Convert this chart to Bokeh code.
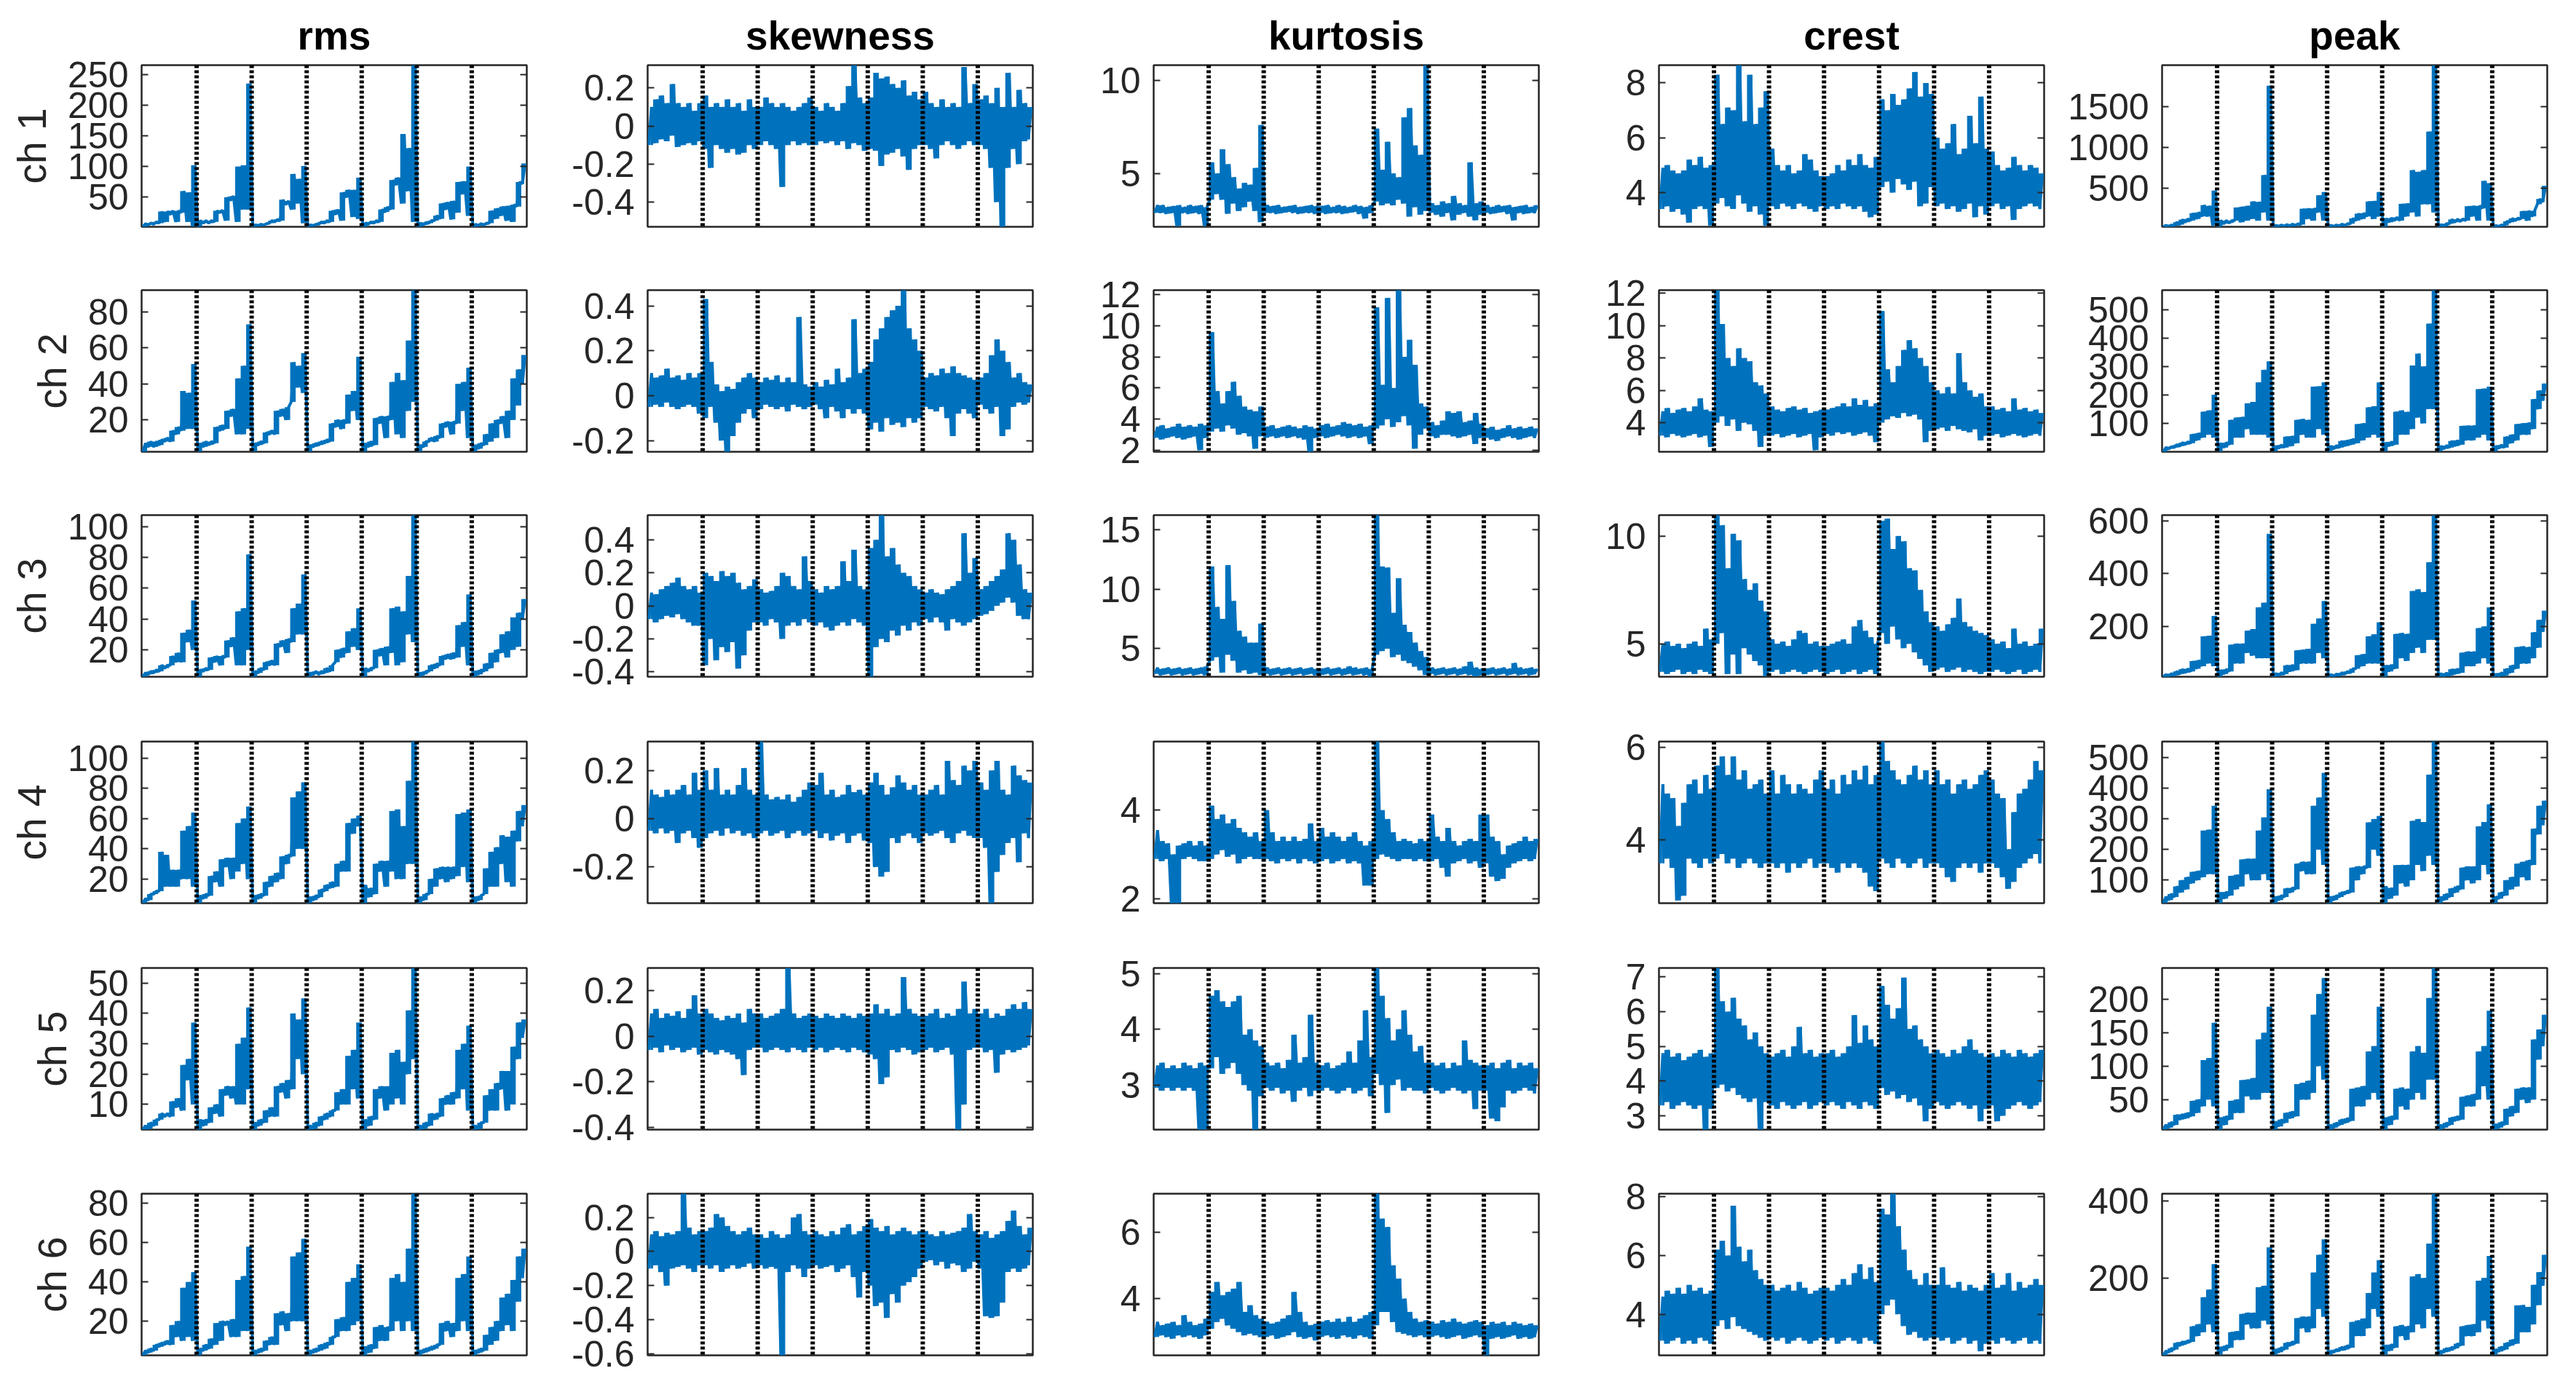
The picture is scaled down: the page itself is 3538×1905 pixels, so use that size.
from bokeh.plotting import figure
from bokeh.models import Range1d, FixedTicker, PrintfTickFormatter, LinearAxis, Span, CustomJSTickFormatter
from bokeh.layouts import column, row
from bokeh.embed import file_html
from bokeh.resources import INLINE

# ---------------------------------------------------------------- categories
FEATURES = ["rms", "skewness", "kurtosis", "crest", "peak"]
CHANNELS = ["ch 1", "ch 2", "ch 3", "ch 4", "ch 5", "ch 6"]
N_SEGMENTS = 7
BINS_PER_SEGMENT = 10
SEGMENT_BOUNDS = [1, 2, 3, 4, 5, 6]

# ---------------------------------------------------------------- y limits / ticks
rms_ylim = [(2, 265), (2.3, 92), (2.5, 107.5), (4, 111), (1.7, 55), (2.6, 85)]
skew_ylim = [(-0.53, 0.32), (-0.25, 0.47), (-0.43, 0.55), (-0.35, 0.32), (-0.41, 0.30), (-0.61, 0.34)]
kurt_ylim = [(2.15, 10.8), (1.9, 12.3), (2.65, 16.2), (1.9, 5.55), (2.2, 5.1), (2.3, 7.15)]
crest_ylim = [(2.75, 8.65), (2.2, 12.2), (3.47, 10.97), (2.64, 6.12), (2.6, 7.26), (2.6, 8.11)]
peak_ylim = [(23, 2012), (0, 568), (10, 621), (25, 553), (5, 247), (0, 418)]

rms_ticks = [[50, 100, 150, 200, 250], [20, 40, 60, 80], [20, 40, 60, 80, 100],
             [20, 40, 60, 80, 100], [10, 20, 30, 40, 50], [20, 40, 60, 80]]
skew_ticks = [[-0.4, -0.2, 0, 0.2], [-0.2, 0, 0.2, 0.4], [-0.4, -0.2, 0, 0.2, 0.4],
              [-0.2, 0, 0.2], [-0.4, -0.2, 0, 0.2], [-0.6, -0.4, -0.2, 0, 0.2]]
kurt_ticks = [[5, 10], [2, 4, 6, 8, 10, 12], [5, 10, 15], [2, 4], [3, 4, 5], [4, 6]]
crest_ticks = [[4, 6, 8], [4, 6, 8, 10, 12], [5, 10], [4, 6], [3, 4, 5, 6, 7], [4, 6, 8]]
peak_ticks = [[500, 1000, 1500], [100, 200, 300, 400, 500], [200, 400, 600],
              [100, 200, 300, 400, 500], [50, 100, 150, 200], [200, 400]]

# ---------------------------------------------------------------- values (low / high per bin, 10 bins per segment)
rms_lo_1 = [2,5,6,8,10,22,10,25,10,3, 2,8,8,10,25,12,45,10,30,30, 2,4,5,8,10,12,38,30,40,8, 2,4,6,8,10,22,12,50,18,15, 2,6,8,10,26,30,70,40,60,10, 2,5,8,12,15,30,14,25,55,20, 2,4,5,8,15,20,12,10,35,72]
rms_hi_1 = [7,8,10,27,27,28,28,60,58,102, 12,12,12,28,29,50,52,100,102,235, 5,6,7,12,14,46,44,88,80,101, 5,6,10,12,28,30,58,62,62,82, 8,10,12,30,34,78,82,153,130,265, 8,9,12,20,40,42,44,75,76,100, 6,7,8,28,32,35,36,38,75,105]
rms_lo_2 = [2.3,5,5,6,8,8,12,14,15,15, 2.5,5,6,7,14,15,22,12,12,15, 2.5,6,7,12,12,22,20,30,38,35, 2.5,5,6,7,8,16,15,18,25,20, 2.5,5,6,18,10,20,12,10,25,30, 2.5,5,8,8,10,16,12,18,25,10, 2.5,4,6,8,10,18,10,20,28,40]
rms_hi_2 = [7,8,8,9,10,14,16,36,35,51, 7,8,8,16,17,25,26,43,50,73, 7,8,13,14,25,26,27,52,50,57, 6,7,8,9,18,20,20,34,36,55, 7,8,21,22,22,41,46,42,64,92, 6,8,10,11,18,19,19,40,41,49, 6,7,12,18,20,22,25,43,48,56]
rms_lo_3 = [2.5,4,5,6,8,10,12,12,25,20, 2.5,6,7,12,10,15,22,10,10,20, 2.5,5,7,10,10,22,18,25,30,30, 2.5,4,4,5,6,12,15,18,22,20, 2.5,6,8,16,10,18,10,12,30,25, 2.5,4,6,8,10,14,14,15,22,10, 2.5,4,6,8,12,18,15,20,22,40]
rms_hi_3 = [5,6,7,10,10,16,18,31,33,52, 7,8,15,16,16,26,28,45,47,82, 6,8,12,13,24,26,27,47,50,69, 5,6,6,8,10,20,21,32,34,47, 8,8,20,21,22,47,48,45,68,107.5, 5,6,10,11,16,17,18,36,38,56, 6,7,11,18,20,30,32,41,44,53]
rms_lo_4 = [4,6,10,12,15,15,15,20,20,15, 4,7,9,18,15,28,20,25,30,20, 4,7,9,15,18,20,30,35,40,40, 4,6,8,12,14,15,25,25,50,55, 4,8,10,25,15,25,20,20,30,30, 4,6,10,15,20,18,20,22,28,18, 4,6,10,15,15,30,18,15,45,55]
rms_hi_4 = [7,10,12,38,36,26,26,52,55,64, 9,10,22,25,33,34,34,57,60,68, 9,10,18,22,24,35,36,74,78,84, 8,9,13,16,18,30,32,57,60,62, 16,14,30,32,32,65,66,55,85,111, 8,10,20,27,28,28,28,63,64,66, 8,9,27,38,41,49,48,52,65,69]
rms_lo_5 = [1.7,2,3,5,6,6,9,8,18,10, 1.7,3,4,7,6,13,12,10,10,15, 1.7,3,4,6,6,14,12,15,25,20, 1.7,2,3,5,6,8,10,10,15,12, 1.7,3,5,12,8,10,12,10,20,25, 1.7,2,3,5,6,10,10,12,15,8, 1.7,2,4,8,8,15,8,10,25,32]
rms_hi_5 = [3,4,5,7,7,11,12,23,25,37, 5,5,9,10,15,16,16,30,32,42, 4,5,8,9,16,17,18,40,38,45, 3,4,6,7,8,14,15,26,28,37, 5,6,15,16,16,27,28,24,41,55, 3,4,7,7,12,13,14,28,30,36, 3,4,13,15,17,21,21,29,37,38]
rms_lo_6 = [2.6,4,5,7,8,8,12,10,12,10, 2.6,5,6,8,10,18,12,12,15,15, 2.6,4,5,8,8,18,15,20,20,20, 2.6,4,5,6,8,12,15,15,18,20, 2.6,4,6,10,10,15,20,15,20,15, 2.6,4,5,6,8,15,12,15,20,15, 2.6,4,5,8,10,15,18,15,30,42]
rms_hi_6 = [5,6,8,9,10,18,20,37,40,45, 6,8,11,19,20,20,21,41,43,58, 5,6,10,12,24,25,24,53,55,62, 5,6,8,9,12,21,22,40,42,49, 7,8,17,18,17,42,44,40,57,85, 5,6,7,8,19,20,19,42,44,53, 5,6,13,17,20,32,34,41,53,57]

skew_lo_1 = [-0.10,-0.09,-0.07,-0.08,-0.05,-0.11,-0.10,-0.09,-0.10,-0.08, -0.12,-0.22,-0.10,-0.12,-0.14,-0.12,-0.15,-0.14,-0.10,-0.12, -0.10,-0.08,-0.10,-0.12,-0.32,-0.10,-0.08,-0.10,-0.09,-0.10, -0.10,-0.08,-0.09,-0.08,-0.10,-0.08,-0.12,-0.09,-0.10,-0.13, -0.12,-0.13,-0.21,-0.15,-0.14,-0.12,-0.16,-0.23,-0.12,-0.10, -0.10,-0.12,-0.17,-0.10,-0.08,-0.10,-0.12,-0.10,-0.08,-0.10, -0.10,-0.12,-0.22,-0.40,-0.53,-0.22,-0.12,-0.20,-0.08,-0.07]
skew_hi_1 = [0.10,0.14,0.16,0.12,0.22,0.12,0.10,0.12,0.08,0.12, 0.16,0.10,0.12,0.10,0.14,0.10,0.12,0.08,0.14,0.10, 0.10,0.15,0.12,0.10,0.12,0.10,0.08,0.10,0.12,0.15, 0.10,0.08,0.12,0.10,0.08,0.12,0.21,0.32,0.15,0.12, 0.15,0.28,0.25,0.26,0.22,0.20,0.24,0.16,0.18,0.14, 0.18,0.12,0.10,0.14,0.10,0.12,0.10,0.31,0.12,0.22, 0.14,0.16,0.12,0.20,0.10,0.28,0.10,0.19,0.12,0.10]
skew_lo_2 = [-0.05,-0.04,-0.05,-0.03,-0.05,-0.06,-0.05,-0.04,-0.05,-0.08, -0.10,-0.05,-0.12,-0.20,-0.25,-0.18,-0.12,-0.08,-0.06,-0.10, -0.06,-0.04,-0.05,-0.06,-0.05,-0.07,-0.04,-0.05,-0.06,-0.05, -0.04,-0.06,-0.10,-0.05,-0.07,-0.10,-0.06,-0.08,-0.06,-0.08, -0.15,-0.12,-0.16,-0.10,-0.13,-0.12,-0.14,-0.10,-0.12,-0.10, -0.05,-0.06,-0.07,-0.05,-0.10,-0.18,-0.08,-0.06,-0.08,-0.10, -0.04,-0.06,-0.08,-0.05,-0.18,-0.15,-0.05,-0.03,-0.04,-0.03]
skew_hi_2 = [0.10,0.08,0.09,0.12,0.08,0.09,0.07,0.10,0.08,0.10, 0.43,0.15,0.05,0.02,0.04,0.03,0.06,0.08,0.10,0.08, 0.06,0.08,0.07,0.09,0.06,0.08,0.06,0.35,0.05,0.04, 0.06,0.04,0.07,0.05,0.12,0.06,0.08,0.34,0.10,0.12, 0.15,0.25,0.30,0.35,0.38,0.40,0.47,0.30,0.25,0.20, 0.08,0.10,0.09,0.12,0.10,0.13,0.10,0.09,0.08,0.07, 0.08,0.10,0.18,0.25,0.20,0.15,0.08,0.10,0.06,0.05]
skew_lo_3 = [-0.08,-0.10,-0.08,-0.06,-0.07,-0.05,-0.08,-0.10,-0.12,-0.12, -0.36,-0.20,-0.33,-0.25,-0.28,-0.22,-0.38,-0.30,-0.15,-0.10, -0.10,-0.12,-0.08,-0.10,-0.20,-0.12,-0.10,-0.12,-0.08,-0.10, -0.12,-0.10,-0.13,-0.15,-0.12,-0.10,-0.12,-0.08,-0.10,-0.12, -0.43,-0.25,-0.20,-0.22,-0.15,-0.18,-0.12,-0.15,-0.10,-0.12, -0.08,-0.10,-0.07,-0.10,-0.15,-0.08,-0.10,-0.12,-0.10,-0.08, -0.06,-0.05,-0.03,0.00,0.02,0.05,0.02,-0.06,-0.08,-0.08]
skew_hi_3 = [0.08,0.07,0.10,0.12,0.14,0.17,0.12,0.10,0.12,0.08, 0.20,0.18,0.15,0.21,0.18,0.20,0.14,0.10,0.12,0.16, 0.10,0.08,0.09,0.12,0.20,0.18,0.12,0.10,0.30,0.15, 0.10,0.08,0.12,0.10,0.12,0.27,0.15,0.34,0.12,0.10, 0.35,0.40,0.55,0.30,0.35,0.25,0.20,0.18,0.12,0.10, 0.08,0.10,0.08,0.07,0.10,0.12,0.15,0.44,0.20,0.29, 0.10,0.12,0.15,0.18,0.22,0.44,0.40,0.25,0.10,0.08]
skew_lo_4 = [-0.05,-0.06,-0.04,-0.06,-0.05,-0.10,-0.06,-0.05,-0.08,-0.12, -0.08,-0.06,-0.05,-0.07,-0.04,-0.06,-0.05,-0.07,-0.06,-0.08, -0.06,-0.05,-0.07,-0.06,-0.05,-0.08,-0.06,-0.05,-0.07,-0.06, -0.05,-0.08,-0.06,-0.09,-0.07,-0.06,-0.10,-0.07,-0.06,-0.09, -0.10,-0.20,-0.24,-0.22,-0.08,-0.10,-0.07,-0.06,-0.08,-0.10, -0.06,-0.07,-0.06,-0.05,-0.08,-0.10,-0.06,-0.05,-0.07,-0.08, -0.08,-0.12,-0.35,-0.22,-0.15,-0.10,-0.08,-0.18,-0.06,-0.08]
skew_hi_4 = [0.12,0.10,0.09,0.12,0.10,0.12,0.14,0.10,0.19,0.12, 0.20,0.12,0.21,0.10,0.12,0.10,0.14,0.21,0.12,0.10, 0.32,0.10,0.08,0.09,0.08,0.10,0.07,0.09,0.12,0.15, 0.14,0.19,0.10,0.12,0.09,0.10,0.14,0.11,0.12,0.10, 0.15,0.19,0.14,0.10,0.13,0.18,0.15,0.12,0.14,0.10, 0.10,0.12,0.14,0.10,0.24,0.16,0.14,0.22,0.20,0.24, 0.15,0.12,0.20,0.24,0.12,0.10,0.22,0.18,0.16,0.15]
skew_lo_5 = [-0.06,-0.05,-0.07,-0.04,-0.06,-0.05,-0.07,-0.06,-0.05,-0.08, -0.06,-0.07,-0.08,-0.06,-0.07,-0.08,-0.10,-0.17,-0.06,-0.05, -0.05,-0.07,-0.06,-0.05,-0.06,-0.07,-0.05,-0.06,-0.07,-0.05, -0.06,-0.05,-0.07,-0.06,-0.05,-0.06,-0.07,-0.05,-0.06,-0.07, -0.08,-0.10,-0.21,-0.18,-0.06,-0.07,-0.05,-0.06,-0.08,-0.07, -0.06,-0.05,-0.07,-0.06,-0.05,-0.08,-0.41,-0.30,-0.06,-0.05, -0.05,-0.07,-0.06,-0.16,-0.08,-0.06,-0.07,-0.06,-0.05,-0.04]
skew_hi_5 = [0.10,0.12,0.08,0.10,0.09,0.11,0.08,0.12,0.18,0.10, 0.12,0.10,0.08,0.07,0.09,0.08,0.10,0.06,0.12,0.10, 0.10,0.08,0.09,0.10,0.12,0.30,0.10,0.08,0.09,0.10, 0.09,0.08,0.10,0.09,0.08,0.10,0.09,0.08,0.10,0.09, 0.10,0.14,0.10,0.12,0.09,0.10,0.26,0.12,0.10,0.09, 0.09,0.10,0.12,0.08,0.10,0.09,0.12,0.24,0.10,0.12, 0.10,0.12,0.08,0.10,0.09,0.12,0.14,0.12,0.15,0.12]
skew_lo_6 = [-0.10,-0.08,-0.12,-0.20,-0.10,-0.09,-0.08,-0.10,-0.12,-0.08, -0.08,-0.10,-0.08,-0.12,-0.10,-0.08,-0.10,-0.09,-0.07,-0.10, -0.08,-0.10,-0.09,-0.10,-0.61,-0.12,-0.08,-0.10,-0.15,-0.10, -0.08,-0.10,-0.09,-0.08,-0.12,-0.10,-0.08,-0.15,-0.27,-0.12, -0.20,-0.32,-0.30,-0.39,-0.25,-0.30,-0.20,-0.18,-0.15,-0.10, -0.06,-0.05,-0.08,-0.06,-0.10,-0.07,-0.08,-0.12,-0.10,-0.06, -0.10,-0.38,-0.39,-0.38,-0.30,-0.12,-0.10,-0.12,-0.10,-0.08]
skew_hi_6 = [0.10,0.12,0.09,0.11,0.10,0.12,0.34,0.14,0.10,0.12, 0.12,0.14,0.22,0.20,0.15,0.12,0.10,0.12,0.14,0.10, 0.10,0.08,0.12,0.10,0.08,0.10,0.20,0.22,0.12,0.10, 0.12,0.10,0.09,0.12,0.10,0.14,0.16,0.10,0.12,0.15, 0.19,0.14,0.12,0.15,0.10,0.12,0.14,0.12,0.10,0.12, 0.12,0.10,0.09,0.12,0.10,0.11,0.12,0.14,0.22,0.12, 0.10,0.12,0.08,0.10,0.12,0.18,0.24,0.15,0.10,0.14]

kurt_lo_1 = [2.9,2.9,2.85,2.9,2.2,2.9,2.85,2.9,2.85,2.2, 3.6,3.9,3.6,2.85,3.4,3.0,3.2,3.5,3.0,2.4, 2.9,2.9,2.85,2.9,2.95,2.9,2.85,2.9,2.9,2.85, 2.9,2.85,2.9,2.9,2.85,2.9,2.95,2.85,2.6,2.9, 3.5,3.3,3.4,3.3,3.6,3.4,2.7,3.2,2.8,3.0, 2.9,2.8,2.7,2.9,2.5,2.8,2.9,2.7,2.5,2.8, 2.9,2.85,2.9,2.95,2.85,2.5,2.9,2.85,2.9,2.9]
kurt_hi_1 = [3.3,3.3,3.2,3.25,3.3,3.2,3.3,3.25,3.3,3.2, 5.6,5.0,6.3,5.5,4.8,4.2,4.5,4.4,5.3,7.6, 3.3,3.25,3.3,3.2,3.25,3.3,3.2,3.25,3.3,3.25, 3.25,3.3,3.2,3.3,3.25,3.2,3.3,3.25,3.2,3.3, 7.4,5.2,6.7,5.0,4.8,8.0,8.5,6.5,6.0,10.8, 3.4,3.3,3.5,3.4,3.8,3.4,3.3,5.6,3.4,3.5, 3.3,3.2,3.3,3.25,3.3,3.2,3.25,3.3,3.2,3.3]
kurt_lo_2 = [2.8,2.7,2.8,2.9,2.8,2.7,2.8,2.9,2.0,2.8, 3.2,3.4,3.2,3.6,3.4,3.0,3.1,2.9,2.1,2.9, 2.8,2.9,2.8,2.9,2.8,2.9,2.8,2.7,1.9,2.8, 2.9,2.8,2.9,3.0,2.9,2.8,2.9,2.8,2.9,2.4, 3.4,3.6,4.0,3.5,3.8,4.2,3.6,2.1,3.0,3.4, 2.9,2.8,3.0,3.0,2.9,2.8,2.9,3.0,2.4,2.8, 2.8,2.7,2.6,2.8,2.9,2.8,2.7,2.8,2.9,2.8]
kurt_hi_2 = [3.5,3.6,3.4,3.5,3.7,3.5,3.6,3.5,3.7,3.6, 9.6,5.8,5.0,5.8,6.4,5.5,4.8,4.6,4.5,4.8, 3.5,3.6,3.4,3.5,3.6,3.5,3.4,3.6,3.5,3.4, 3.6,3.7,3.5,3.6,3.8,3.7,3.6,3.7,3.5,3.6, 11.2,6.2,11.8,6.0,12.3,8.0,9.1,7.5,5.0,4.8, 3.8,3.6,3.9,4.5,4.4,4.5,3.8,3.9,4.4,3.7, 3.4,3.5,3.3,3.4,3.6,3.4,3.5,3.4,3.5,3.4]
kurt_lo_3 = [2.9,2.8,2.9,2.8,2.9,2.8,2.9,2.8,2.9,2.8, 4.0,4.3,3.0,4.5,4.0,3.0,3.2,2.9,3.0,2.8, 2.9,2.8,2.9,2.8,2.9,2.8,2.9,2.8,2.9,2.8, 2.8,2.9,2.8,2.9,2.8,2.9,2.8,2.9,2.8,2.7, 4.5,4.8,5.0,4.3,4.5,4.0,3.8,3.5,3.2,2.8, 2.9,2.8,2.9,2.8,2.9,2.8,2.9,2.8,2.7,2.8, 2.8,2.9,2.8,2.9,2.8,2.9,2.8,2.9,2.8,2.9]
kurt_hi_3 = [3.4,3.3,3.4,3.3,3.4,3.3,3.4,3.3,3.4,3.5, 11.9,8.5,7.5,12.0,9.0,6.5,6.0,5.5,5.5,7.1, 3.4,3.3,3.4,3.3,3.4,3.3,3.4,3.3,3.4,3.3, 3.3,3.4,3.3,3.4,3.3,3.5,3.4,3.3,3.4,3.3, 16.2,11.9,11.8,8.0,10.9,7.0,6.4,5.5,4.8,4.3, 3.4,3.3,3.4,3.3,3.4,3.3,3.5,3.9,3.4,3.3, 3.3,3.4,3.3,3.4,3.3,3.8,3.4,3.3,3.4,3.3]
kurt_lo_4 = [2.9,2.85,2.9,1.9,1.9,2.9,2.95,2.9,2.85,2.85, 2.9,3.0,3.1,2.95,3.0,2.8,2.9,2.95,2.9,2.9, 2.9,2.85,2.8,2.9,2.85,2.9,2.8,2.9,2.85,2.8, 2.85,2.9,2.8,2.85,2.9,2.8,2.85,2.8,2.3,2.3, 2.9,3.0,2.95,2.9,2.85,2.9,2.9,2.85,2.9,2.85, 2.85,2.9,2.7,2.5,2.8,2.85,2.9,2.8,2.85,2.7, 2.8,2.5,2.4,2.45,2.7,2.8,2.85,2.9,2.85,2.9]
kurt_hi_4 = [3.55,3.3,3.25,3.0,3.2,3.25,3.3,3.2,3.3,3.2, 4.1,3.8,3.9,3.7,3.8,3.6,3.5,3.4,3.5,3.3, 4.0,3.5,3.3,3.4,3.3,3.4,3.3,3.35,3.7,3.3, 3.6,3.4,3.5,3.4,3.3,3.4,3.5,3.3,3.2,3.3, 5.55,4.0,3.8,3.5,3.3,3.35,3.3,3.25,3.35,3.3, 3.9,3.4,3.3,3.6,3.3,3.2,3.3,3.35,3.3,3.9, 3.9,3.4,3.3,3.0,3.2,3.25,3.3,3.4,3.3,3.35]
kurt_lo_5 = [2.95,2.9,2.95,2.9,2.95,2.9,2.95,2.9,2.2,2.2, 3.3,3.5,3.2,3.3,3.4,3.2,3.0,2.9,2.2,2.8, 2.95,2.9,2.95,2.85,2.9,2.7,2.9,2.95,2.8,2.9, 2.9,2.95,2.9,2.85,2.9,2.95,2.85,2.9,2.95,2.8, 3.2,3.0,2.5,3.0,3.1,2.9,2.95,2.9,2.9,2.85, 2.95,2.9,2.85,2.9,2.95,2.9,2.85,2.9,2.57,2.9, 2.9,2.4,2.35,2.6,2.9,2.85,2.9,2.95,2.9,2.85]
kurt_hi_5 = [3.35,3.4,3.3,3.35,3.3,3.4,3.35,3.3,3.4,3.35, 4.6,4.7,4.5,4.4,4.5,4.6,3.9,4.0,3.8,3.7, 3.4,3.35,3.4,3.3,3.45,3.9,3.4,3.5,4.26,3.4, 3.35,3.4,3.3,3.35,3.4,3.6,3.4,3.8,4.34,3.5, 5.1,4.6,4.2,3.8,4.0,4.34,3.9,3.6,3.7,3.4, 3.4,3.35,3.4,3.3,3.4,3.35,3.8,3.45,3.4,3.35, 3.35,3.4,3.3,3.4,3.45,3.3,3.4,3.35,3.4,3.3]
kurt_lo_6 = [2.85,2.9,2.85,2.8,2.9,2.85,2.9,2.85,2.8,2.9, 3.1,3.3,3.4,3.2,3.1,3.0,2.9,2.95,2.9,2.85, 2.85,2.9,2.8,2.85,2.9,3.0,2.85,2.8,2.85,2.75, 2.85,2.9,2.85,2.8,2.9,2.85,2.8,2.9,2.85,2.8, 3.2,3.6,3.6,3.3,3.0,2.95,2.9,2.85,2.9,2.85, 2.85,2.9,2.85,2.8,2.85,2.9,2.8,2.85,2.9,2.85, 2.3,2.8,2.85,2.8,2.85,2.9,2.8,2.85,2.8,2.85]
kurt_hi_6 = [3.3,3.2,3.25,3.3,3.2,3.5,3.3,3.2,3.25,3.4, 4.2,4.5,4.1,4.2,4.3,4.5,3.6,3.8,3.5,3.4, 3.3,3.25,3.3,3.4,3.5,4.2,3.6,3.3,3.2,3.25, 3.3,3.35,3.3,3.4,3.3,3.45,3.3,3.4,3.5,3.6, 7.15,6.4,6.15,5.0,4.6,4.0,3.6,3.4,3.3,3.35, 3.3,3.25,3.35,3.3,3.4,3.3,3.25,3.3,3.35,3.3, 3.2,3.3,3.25,3.3,3.2,3.3,3.25,3.2,3.25,3.2]

crest_lo_1 = [3.4,3.5,3.3,3.4,3.2,2.9,3.4,3.5,3.4,2.8, 3.6,3.8,3.5,3.4,3.9,3.6,3.3,3.5,3.2,2.8, 3.5,3.4,3.6,3.5,3.4,3.6,3.5,3.4,3.3,3.5, 3.4,3.5,3.4,3.6,3.5,3.4,3.5,3.3,3.1,3.2, 4.2,4.4,4.0,4.5,4.3,4.1,4.4,3.5,3.6,4.2, 3.5,3.6,3.4,3.5,3.3,3.4,3.6,3.1,3.5,3.2, 3.5,3.6,3.4,3.5,3.0,3.4,3.5,3.6,3.5,3.4]
crest_hi_1 = [4.9,5.0,4.8,4.7,4.8,5.2,5.0,5.3,4.9,5.0, 8.3,6.5,7.1,7.0,8.65,6.6,8.3,6.5,7.1,7.7, 5.6,5.0,4.8,5.0,4.7,4.8,5.4,5.2,4.8,4.6, 4.6,4.7,5.0,4.8,5.2,5.0,5.4,5.0,4.9,5.3, 7.4,7.0,7.6,7.2,7.4,7.8,8.4,7.5,8.0,7.6, 6.0,5.6,5.8,6.5,5.4,5.6,6.8,5.8,7.5,5.6, 5.5,5.0,4.8,4.9,5.3,5.0,4.8,5.0,4.9,4.7]
crest_lo_2 = [3.2,3.1,3.3,3.2,3.1,3.2,3.3,3.1,3.2,2.5, 4.0,4.4,3.8,4.2,3.5,4.0,3.9,3.5,2.5,3.2, 3.2,3.3,3.1,3.2,3.3,3.1,3.2,3.3,2.3,3.1, 3.3,3.2,3.4,3.3,3.4,3.2,3.3,3.4,3.2,2.8, 4.0,4.2,4.4,4.3,4.6,4.4,4.5,4.2,2.8,3.5, 3.6,3.7,3.5,3.8,3.6,3.5,3.4,3.6,2.9,3.2, 3.2,3.3,3.1,3.2,3.3,3.2,3.1,3.2,3.3,3.2]
crest_hi_2 = [4.7,4.9,4.6,4.8,4.9,4.7,5.0,5.5,4.8,4.7, 12.2,10.1,8.0,7.5,8.6,8.0,7.8,6.5,6.3,5.8, 5.0,4.8,4.7,4.9,5.0,4.8,4.9,4.6,4.7,4.8, 4.8,4.9,5.0,5.2,5.0,5.5,5.1,5.4,5.0,5.2, 10.9,7.3,6.5,7.5,8.5,9.1,8.6,8.0,7.5,6.5, 6.0,5.8,6.2,5.8,8.3,6.5,6.0,5.6,5.8,5.0, 5.0,4.8,4.9,4.7,5.5,4.8,4.9,4.7,4.8,4.6]
crest_lo_3 = [3.7,3.6,3.7,3.8,3.6,3.7,3.6,3.8,3.7,3.6, 5.0,5.5,3.6,4.5,3.6,4.8,4.5,4.2,4.0,3.5, 3.7,3.8,3.6,3.7,3.8,3.7,3.6,3.7,3.8,3.7, 3.6,3.7,3.8,3.6,3.7,3.8,3.6,3.7,3.8,3.6, 5.5,5.0,5.8,5.2,4.8,5.0,4.6,4.3,4.0,3.7, 3.8,3.9,3.7,3.8,3.9,3.7,3.8,3.7,3.6,3.7, 3.7,3.8,3.7,3.6,3.7,3.8,3.6,3.7,3.8,3.7]
crest_hi_3 = [5.0,5.1,4.9,5.0,4.8,5.0,5.1,4.9,5.7,5.2, 10.97,10.5,8.5,10.1,9.8,8.0,7.5,7.8,7.0,6.5, 5.2,5.0,5.1,4.9,5.2,5.6,5.5,5.0,5.1,4.9, 4.9,5.0,5.1,5.2,5.0,5.8,6.1,5.6,5.3,5.0, 10.7,10.8,9.4,10.0,9.75,8.5,8.4,7.5,6.5,6.0, 5.8,5.6,5.9,6.2,7.1,6.0,5.8,5.6,5.5,5.4, 5.2,5.0,5.1,4.8,5.7,5.0,5.1,4.9,5.0,5.7]
crest_lo_4 = [3.5,3.6,3.4,2.7,2.8,3.6,3.5,3.4,3.6,3.5, 3.6,3.7,3.5,3.6,3.4,3.5,3.6,3.5,3.4,3.5, 3.5,3.4,3.5,3.3,3.5,3.4,3.5,3.6,3.4,3.5, 3.5,3.4,3.3,3.5,3.4,3.5,3.4,3.3,3.0,2.9, 3.6,3.5,3.4,3.6,3.5,3.4,3.5,3.6,3.4,3.5, 3.5,3.4,3.2,3.1,3.4,3.5,3.4,3.5,3.3,3.5, 3.5,3.4,3.2,2.95,3.1,3.4,3.5,3.6,3.7,3.5]
crest_hi_4 = [5.2,5.0,4.9,4.3,4.8,5.2,5.3,5.0,5.4,5.1, 5.6,5.8,5.4,5.8,5.3,5.5,5.1,5.2,5.3,5.0, 5.5,5.0,5.4,5.2,5.0,5.2,5.1,5.0,5.3,5.5, 5.1,5.3,5.0,5.4,5.2,5.5,5.3,5.6,5.2,5.4, 6.12,5.7,5.5,5.3,5.2,5.4,5.6,5.3,5.5,5.2, 5.5,5.2,5.3,5.0,5.2,5.3,5.1,5.2,5.4,5.5, 5.3,5.0,4.9,3.8,4.6,5.0,5.1,5.3,5.7,5.5]
crest_lo_5 = [3.3,3.4,3.2,3.3,3.4,3.3,3.2,3.3,2.6,3.2, 3.8,3.9,3.7,3.8,3.6,3.5,3.4,3.5,2.6,3.4, 3.3,3.2,3.4,3.3,3.2,3.3,3.4,3.2,3.3,3.4, 3.3,3.4,3.3,3.2,3.4,3.3,3.2,3.4,3.3,3.2, 3.8,3.6,3.7,3.5,3.6,3.4,3.5,3.3,2.84,3.2, 3.4,3.3,3.2,3.3,3.4,3.3,3.2,3.3,2.84,3.2, 3.3,2.84,3.0,3.2,3.3,3.4,3.3,3.2,3.3,3.4]
crest_hi_5 = [4.8,4.9,4.7,4.8,4.6,4.7,4.8,4.9,4.7,4.8, 7.26,6.3,6.0,6.4,5.8,5.6,5.2,5.4,5.0,4.8, 4.7,4.8,4.9,4.7,5.0,5.56,4.8,4.9,4.7,4.8, 4.8,4.9,4.7,4.8,5.0,5.9,5.1,5.6,5.2,5.0, 6.74,6.2,5.8,6.1,6.98,5.5,5.6,5.2,5.0,4.8, 4.9,4.8,4.7,4.9,4.8,5.0,5.2,4.9,4.8,4.7, 4.8,4.7,4.9,4.8,4.7,4.9,4.8,4.7,4.8,4.9]
crest_lo_6 = [3.1,3.0,3.1,3.2,3.0,3.1,3.0,3.2,3.1,3.0, 3.6,3.8,3.5,3.9,3.6,3.5,3.4,3.3,3.2,3.1, 3.2,3.1,3.2,3.0,3.1,3.2,3.1,3.0,3.1,3.2, 3.1,3.2,3.0,3.1,3.2,3.1,3.0,3.2,3.1,3.0, 4.0,4.3,4.5,4.0,3.6,3.3,3.4,3.2,3.1,3.2, 3.2,3.1,3.2,3.0,3.1,3.2,3.0,3.1,2.74,3.0, 3.1,3.0,3.2,3.1,3.0,3.1,3.2,3.0,3.1,3.0]
crest_hi_6 = [4.6,4.8,4.7,4.9,4.7,5.0,4.8,4.9,4.7,4.8, 6.2,6.5,6.0,7.7,6.3,5.8,6.2,5.5,5.2,5.0, 5.0,4.8,4.9,5.0,4.8,5.1,4.9,4.7,4.8,4.9, 4.9,4.8,5.0,5.2,5.0,5.4,5.7,5.2,5.6,5.1, 7.6,7.4,8.11,7.0,6.2,5.5,5.2,5.0,5.4,5.0, 5.0,5.6,5.0,4.9,5.1,4.8,5.0,4.9,4.8,5.0, 5.4,4.9,5.0,5.4,4.8,5.1,4.9,5.0,5.2,5.0]

peak_lo_1 = [23,30,35,50,80,100,120,150,150,40, 23,60,70,100,80,100,120,100,200,100, 23,30,30,35,40,50,120,100,200,100, 23,30,35,40,60,100,120,150,120,150, 23,80,100,100,150,200,150,300,300,200, 23,30,60,80,90,100,150,100,250,100, 23,28,40,80,100,120,100,150,300,330]
peak_hi_1 = [40,45,80,110,120,190,200,290,280,468, 100,100,100,260,270,280,335,330,660,1760, 40,45,50,55,60,245,250,250,410,450, 40,45,55,60,125,185,190,335,340,450, 125,130,140,305,310,720,700,720,1195,2012, 50,60,112,115,120,275,280,280,587,560, 38,45,90,125,130,215,220,220,365,527]
peak_lo_2 = [0,10,15,20,25,30,40,50,60,50, 2,15,25,50,50,80,60,60,60,50, 2,12,15,20,30,60,50,50,80,60, 2,10,15,20,25,30,40,50,60,50, 2,20,25,60,60,80,120,100,150,150, 2,10,15,20,25,40,40,50,60,40, 2,12,15,30,40,60,60,80,150,180]
peak_hi_2 = [15,18,25,32,35,62,65,141,145,200, 30,32,112,120,122,170,175,244,288,318, 20,24,53,55,112,115,112,229,230,244, 20,22,38,40,45,97,100,156,160,244, 32,35,141,145,140,303,345,300,450,568, 20,22,38,40,91,92,92,220,222,229, 20,24,53,60,97,100,102,185,215,240]
peak_lo_3 = [10,12,15,20,25,30,40,50,60,50, 10,20,30,60,60,100,90,80,80,80, 10,15,20,30,35,60,60,60,100,80, 10,12,15,20,25,40,50,60,60,60, 10,30,40,80,70,100,120,100,150,150, 10,12,15,20,25,50,50,60,80,60, 10,12,15,25,40,60,60,80,120,180]
peak_hi_3 = [18,22,30,38,40,69,72,163,165,240, 35,38,131,135,135,184,190,272,290,550, 22,25,53,55,110,112,115,210,230,296, 18,20,25,30,40,91,95,163,170,216, 53,55,172,175,172,334,340,330,443,621, 22,24,38,40,101,105,105,194,200,272, 20,25,40,53,122,125,122,178,225,260]
peak_lo_4 = [25,35,45,60,70,90,100,110,120,120, 25,40,50,70,80,120,100,100,120,100, 25,35,45,60,70,130,120,120,200,150, 25,35,45,55,60,100,120,140,200,180, 25,40,50,90,80,100,150,130,180,150, 25,35,45,60,70,100,90,100,150,120, 25,40,50,70,80,110,100,150,250,280]
peak_hi_4 = [46,55,80,100,110,127,130,262,265,343, 60,62,114,118,168,170,170,262,305,397, 46,50,73,75,154,160,160,343,370,451, 46,50,60,65,141,145,145,289,300,310, 80,75,149,150,150,294,300,290,445,553, 46,55,73,80,141,145,145,276,290,348, 46,60,100,110,154,160,165,268,343,360]
peak_lo_5 = [5,8,12,20,22,25,30,40,50,40, 5,12,20,30,30,55,50,50,60,60, 5,10,15,22,25,50,50,60,100,80, 5,8,12,15,18,40,40,50,60,50, 5,12,20,40,35,50,60,50,80,80, 5,8,12,18,20,40,40,50,70,50, 5,8,12,25,30,50,45,50,110,130]
peak_hi_5 = [12,16,27,28,30,48,50,109,112,165, 23,25,48,50,79,80,82,140,150,189, 17,20,30,32,73,75,78,177,208,232, 12,15,20,22,66,68,70,122,130,189, 23,25,66,68,66,122,130,120,202,247, 12,15,23,25,54,56,58,122,130,183, 13,16,36,40,66,68,68,140,155,177]
peak_lo_6 = [0,8,15,25,30,35,50,60,80,60, 2,12,20,40,40,80,70,70,90,80, 2,8,15,25,30,70,60,70,120,100, 2,8,12,15,20,50,50,70,120,100, 2,12,20,50,40,60,80,70,120,100, 2,8,12,18,25,50,50,60,90,70, 2,10,15,25,30,60,60,80,130,180]
peak_hi_6 = [11,18,32,35,38,75,80,150,170,236, 21,25,60,62,107,110,110,176,180,279, 15,20,32,35,96,100,100,214,260,300, 11,15,21,25,86,90,95,161,214,246, 26,28,75,78,75,204,210,200,289,418, 11,18,21,30,75,78,80,193,200,257, 15,22,32,40,129,130,125,182,215,260]

# ---------------------------------------------------------------- tables built from the lists
LO = {"rms": [rms_lo_1, rms_lo_2, rms_lo_3, rms_lo_4, rms_lo_5, rms_lo_6],
      "skewness": [skew_lo_1, skew_lo_2, skew_lo_3, skew_lo_4, skew_lo_5, skew_lo_6],
      "kurtosis": [kurt_lo_1, kurt_lo_2, kurt_lo_3, kurt_lo_4, kurt_lo_5, kurt_lo_6],
      "crest": [crest_lo_1, crest_lo_2, crest_lo_3, crest_lo_4, crest_lo_5, crest_lo_6],
      "peak": [peak_lo_1, peak_lo_2, peak_lo_3, peak_lo_4, peak_lo_5, peak_lo_6]}
HI = {"rms": [rms_hi_1, rms_hi_2, rms_hi_3, rms_hi_4, rms_hi_5, rms_hi_6],
      "skewness": [skew_hi_1, skew_hi_2, skew_hi_3, skew_hi_4, skew_hi_5, skew_hi_6],
      "kurtosis": [kurt_hi_1, kurt_hi_2, kurt_hi_3, kurt_hi_4, kurt_hi_5, kurt_hi_6],
      "crest": [crest_hi_1, crest_hi_2, crest_hi_3, crest_hi_4, crest_hi_5, crest_hi_6],
      "peak": [peak_hi_1, peak_hi_2, peak_hi_3, peak_hi_4, peak_hi_5, peak_hi_6]}
YLIM = {"rms": rms_ylim, "skewness": skew_ylim, "kurtosis": kurt_ylim, "crest": crest_ylim, "peak": peak_ylim}
YTICKS = {"rms": rms_ticks, "skewness": skew_ticks, "kurtosis": kurt_ticks, "crest": crest_ticks, "peak": peak_ticks}

# ---------------------------------------------------------------- style / layout
BLUE = "#0072BD"
AX_COLOR = "#262626"
FONT = "Liberation Sans"
FRAME_W, FRAME_H = 529, 222
LEFT_BORDERS = [194, 156, 156, 155, 152]
RIGHT_BORDER = 10
TOP_BORDERS = [89, 52, 52, 54, 54, 53]
BOTTOM_BORDER = 35


def bin_positions(n):
    step = 1.0 / BINS_PER_SEGMENT
    centers = [k * step + step / 2 for k in range(n)]
    return step, centers


def make_panel(r, c):
    feat = FEATURES[c]
    lo, hi = LO[feat][r], HI[feat][r]
    n = min(len(lo), len(hi))
    y0, y1 = YLIM[feat][r]
    kw = {}
    if r == 0:
        kw["title"] = feat
    p = figure(frame_width=FRAME_W, frame_height=FRAME_H,
               x_range=Range1d(0, N_SEGMENTS), y_range=Range1d(y0, y1),
               x_axis_location=None, y_axis_location="left",
               output_backend="svg", toolbar_location=None,
               min_border_left=LEFT_BORDERS[c], min_border_right=RIGHT_BORDER,
               min_border_top=TOP_BORDERS[r], min_border_bottom=BOTTOM_BORDER,
               **kw)
    p.grid.visible = False
    p.background_fill_color = "white"
    p.border_fill_color = "white"
    p.outline_line_color = AX_COLOR
    p.outline_line_width = 2.5

    if r == 0:
        p.title.align = "center"
        p.title.text_font = FONT
        p.title.text_font_size = "55px"
        p.title.text_font_style = "bold"
        p.title.text_color = "black"
        p.title.standoff = 19

    ticker = FixedTicker(ticks=YTICKS[feat][r])
    ax = p.yaxis[0]
    ax.ticker = ticker
    ax.formatter = PrintfTickFormatter(format="%g")
    ax.major_tick_in = 9
    ax.major_tick_out = 0
    ax.minor_tick_line_color = None
    ax.axis_line_color = None
    ax.major_tick_line_color = AX_COLOR
    ax.major_tick_line_width = 2
    ax.major_label_text_font = FONT
    ax.major_label_text_font_size = "50px"
    ax.major_label_text_color = AX_COLOR
    ax.major_label_standoff = 18
    if c == 0:
        ax.axis_label = CHANNELS[r]
        ax.axis_label_text_font = FONT
        ax.axis_label_text_font_size = "55px"
        ax.axis_label_text_font_style = "normal"
        ax.axis_label_text_color = AX_COLOR
        ax.axis_label_standoff = 15

    right = LinearAxis(ticker=ticker, major_tick_in=9, major_tick_out=0,
                       minor_tick_line_color=None, axis_line_color=None,
                       major_tick_line_color=AX_COLOR, major_tick_line_width=2,
                       formatter=CustomJSTickFormatter(code="return ''"),
                       major_label_standoff=0)
    p.add_layout(right, "right")

    step, centers = bin_positions(n)
    # envelope of the dense signal within each bin
    p.varea_step(x=centers, y1=lo[:n], y2=hi[:n], step_mode="center",
                 fill_color=BLUE, fill_alpha=1.0)
    # the trace itself, swinging between the low and high value of each bin
    xs, ys = [], []
    for k in range(n):
        xs += [k * step + step * 0.2, k * step + step * 0.7]
        ys += [lo[k], hi[k]]
    p.line(xs, ys, line_color=BLUE, line_width=4, line_join="bevel")

    for b in SEGMENT_BOUNDS:
        p.add_layout(Span(location=b, dimension="height", line_color="black",
                          line_width=6, line_dash="4 3"))
    return p


rows = []
for r in range(len(CHANNELS)):
    rows.append(row(*[make_panel(r, c) for c in range(len(FEATURES))]))
layout = column(*rows)

open("out.html", "w").write(file_html(layout, INLINE, title="features"))
